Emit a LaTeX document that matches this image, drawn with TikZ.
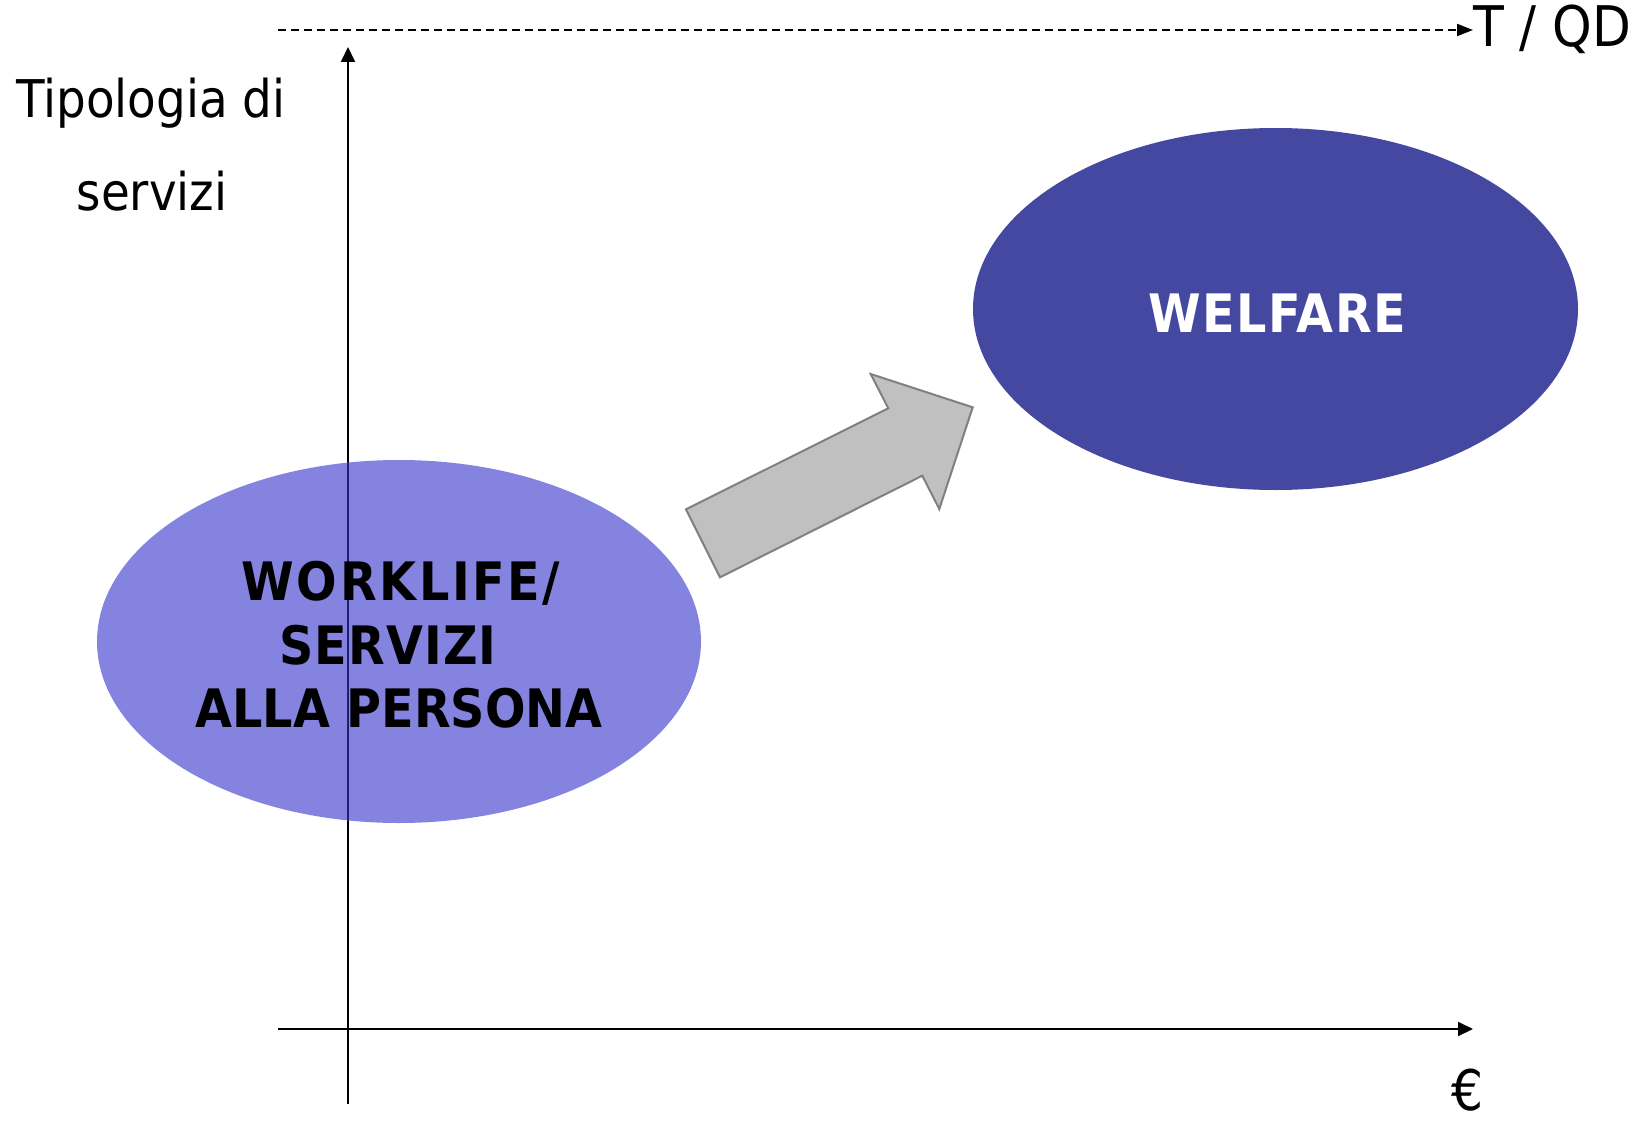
\documentclass[tikz,border=0pt]{standalone}
\usepackage{fontspec}
\setmainfont{DejaVu Sans Condensed}
\usetikzlibrary{arrows.meta,shapes.geometric}
\definecolor{lightell}{RGB}{132,132,224}
\definecolor{darkell}{RGB}{69,72,160}
\definecolor{navyline}{RGB}{30,30,115}
\definecolor{arrowfill}{RGB}{192,192,192}
\definecolor{arrowedge}{RGB}{128,128,128}
\begin{document}
\begin{tikzpicture}[x=1pt,y=-1pt,
  axisline/.style={line width=2pt,-{Triangle[length=15pt,width=14pt]}},
  dashline/.style={line width=2pt,dash pattern=on 8pt off 5pt,-{Triangle[length=16pt,width=12pt]}},
  plain/.style={inner sep=0pt,anchor=base,font=\fontsize{52}{60}\selectfont},
  small/.style={inner sep=0pt,font=\fontsize{56}{60}\selectfont},
  boldtxt/.style={inner sep=0pt,anchor=base,font=\fontsize{53}{64}\selectfont\bfseries},
  blob/.style={ellipse,inner sep=0pt,minimum width=604pt,minimum height=363pt}]
\useasboundingbox (0,0) rectangle (1646,1121);
% axes coordinates
\coordinate (yb) at (348,1104);
\coordinate (yt) at (348,47);
\coordinate (xl) at (278,1029);
\coordinate (xr) at (1473,1029);
\coordinate (dl) at (278,30);
\coordinate (dr) at (1473,30);
% axes
\draw[dashline] (dl) -- (dr);
\draw[axisline] (yb) -- (yt);
\draw[axisline] (xl) -- (xr);
% ellipses
\node[blob,fill=lightell] (wl) at (399,641.5) {};
\node[blob,fill=darkell,minimum width=605pt,minimum height=362pt] (wf) at (1275.5,309) {};
% axis line seen through the light ellipse
\begin{scope}
  \clip (399,641.5) ellipse [x radius=302, y radius=181.5];
  \draw[navyline,line width=2pt] (348,400) -- (348,900);
\end{scope}
% block arrow
\draw[fill=arrowfill,draw=arrowedge,line width=2pt,line join=miter]
  (686,509.3) -- (720,577.3) -- (922.3,475.7) -- (939.3,509) -- (972.7,407.3)
  -- (870.7,374) -- (888.3,408.3) -- cycle;
% texts
\node[plain] (t1) at (151,117.6) {Tipologia di};
\node[plain] (t2) at (152,210) {servizi};
\node[small,anchor=base west] (tqd) at (1473,47) {T / QD};
\node[small,anchor=base] (eur) at (1468,1110) {€};
\node[boldtxt,text=white] (wtxt) at (1277,332) {\addfontfeature{LetterSpace=3}WELFARE};
\node[boldtxt] (w1) at (401,600) {\addfontfeature{LetterSpace=5}WORKLIFE/};
\node[boldtxt] (w2) at (399,664.5) {\addfontfeature{LetterSpace=2}SERVIZI\hspace*{22pt}};
\node[boldtxt] (w3) at (399,727.5) {ALLA PERSONA};
\end{tikzpicture}
\end{document}
